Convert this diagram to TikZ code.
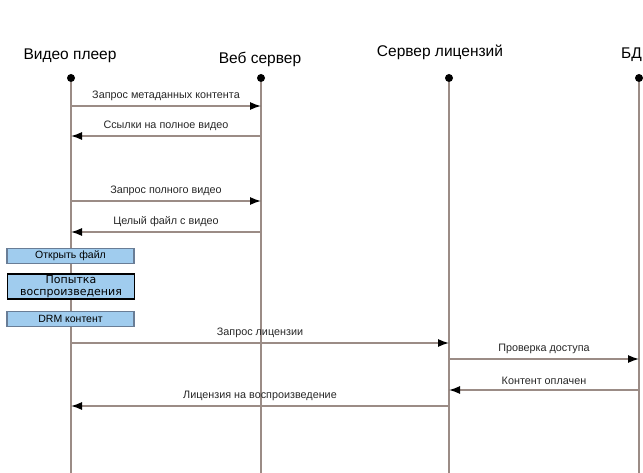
\documentclass[tikz,border=0pt]{standalone}
\usepackage{fontspec}
\setmainfont{Liberation Sans}
\newfontfamily\boxfont{DejaVu Sans}
\usetikzlibrary{arrows.meta}

\definecolor{lifegray}{RGB}{155,140,134}
\definecolor{boxblue}{RGB}{160,204,238}
\definecolor{boxedge}{RGB}{105,125,150}

\tikzset{
  head/.style={inner sep=0pt,font=\fontsize{15.5}{16}\selectfont},
  dot/.style={circle,fill=black,inner sep=0pt,minimum size=8pt},
  life/.style={draw=lifegray,line width=1.4pt},
  msg/.style={draw=lifegray,line width=1.4pt,-{Latex[length=11pt,width=8pt,black]}},
  lbl/.style={midway,above=5pt,inner sep=0pt,font=\fontsize{10.8}{11}\selectfont,text=black!85},
  act/.style={draw=boxedge,fill=boxblue,line width=1.2pt,minimum width=127pt,minimum height=15pt,inner sep=0pt,font=\fontsize{10.5}{11}\selectfont},
}

\begin{document}
\begin{tikzpicture}[x=1pt,y=-1pt]

      \useasboundingbox (0,0) rectangle (643,473);

      \node[head] (vp) at (70,56){Видео плеер};
      \node[head] (ws) at (260,59){Веб сервер};
      \node[head] (ls) at (440,52){Сервер лицензий};
      \node[head,anchor=east] (db) at (642,55){БД};

      \node[dot] (a) at (71,78){};
      \node[dot] (b) at (261,78){};
      \node[dot] (c) at (449,78){};
      \node[dot] (d) at (639,78){};

      \coordinate (ae) at (71,473);
      \coordinate (be) at (261,473);
      \coordinate (ce) at (449,473);
      \coordinate (de) at (639,473);

      \draw[life] (a) -- (ae);
      \draw[life] (b) -- (be);
      \draw[life] (c) -- (ce);
      \draw[life] (d) -- (de);

      % points on the lifelines
      \coordinate (a1) at (71,106);  \coordinate (b1) at (261,106);
      \coordinate (a2) at (71,136);  \coordinate (b2) at (261,136);
      \coordinate (a3) at (71,201);  \coordinate (b3) at (261,201);
      \coordinate (a4) at (71,232);  \coordinate (b4) at (261,232);
      \coordinate (a5) at (71,343);  \coordinate (c5) at (449,343);
      \coordinate (c6) at (449,359); \coordinate (d6) at (639,359);
      \coordinate (c7) at (449,390); \coordinate (d7) at (639,390);
      \coordinate (a8) at (71,406);  \coordinate (c8) at (449,406);

      \node[act] (f) at (70.5,256){Открыть файл};
      \node[act,draw=black,minimum height=25pt,font=\boxfont\fontsize{11}{11.5}\selectfont,align=center] (g) at (71,286.5){Попытка\\воспроизведения};
      \node[act] (h) at (70.5,319){DRM контент};

      \draw[msg] (a1) -- node[lbl]{Запрос метаданных контента} (b1);
      \draw[msg] (b2) -- node[lbl]{Ссылки на полное видео} (a2);
      \draw[msg] (a3) -- node[lbl]{Запрос полного видео} (b3);
      \draw[msg] (b4) -- node[lbl]{Целый файл с видео} (a4);
      \draw[msg] (a5) -- node[lbl]{Запрос лицензии} (c5);
      \draw[msg] (c6) -- node[lbl]{Проверка доступа} (d6);
      \draw[msg] (d7) -- node[lbl]{Контент оплачен} (c7);
      \draw[msg] (c8) -- node[lbl]{Лицензия на воспроизведение} (a8);
    \end{tikzpicture}
\end{document}
